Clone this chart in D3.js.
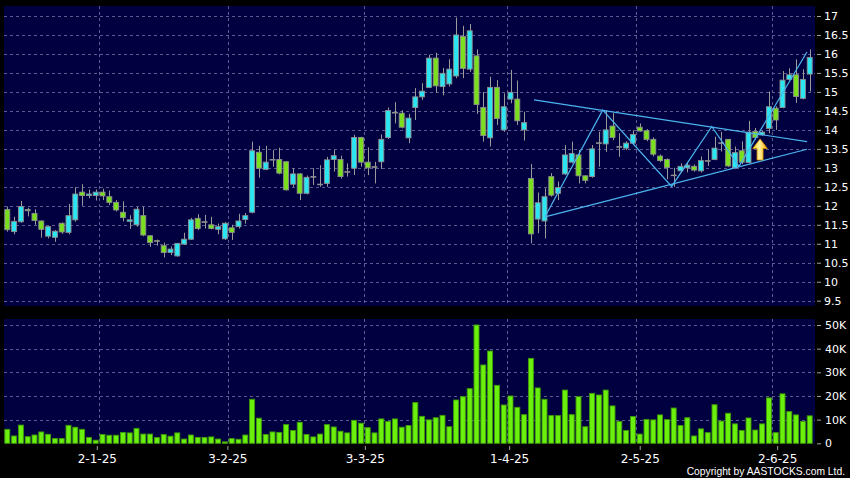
<!DOCTYPE html>
<html><head><meta charset="utf-8">
<script src="https://cdn.jsdelivr.net/npm/d3@7"></script>
<style>html,body{margin:0;padding:0;background:#000;}svg{display:block;}</style>
</head><body><svg id="chart" width="850" height="478"></svg>
<script>
// ---------- DATA ----------
const dates = [
 "10-12-24","11-12-24","12-12-24","13-12-24","16-12-24","17-12-24","18-12-24","19-12-24","20-12-24","23-12-24","24-12-24","27-12-24","30-12-24","31-12-24",
 "2-1-25","3-1-25","6-1-25","7-1-25","8-1-25","9-1-25","10-1-25","13-1-25","14-1-25","15-1-25","16-1-25","17-1-25","20-1-25","21-1-25","22-1-25","23-1-25","24-1-25","27-1-25","28-1-25",
 "3-2-25","4-2-25","5-2-25","6-2-25","7-2-25","10-2-25","11-2-25","12-2-25","13-2-25","14-2-25","17-2-25","18-2-25","19-2-25","20-2-25","21-2-25","24-2-25","25-2-25","26-2-25","27-2-25","28-2-25",
 "3-3-25","4-3-25","5-3-25","6-3-25","7-3-25","10-3-25","11-3-25","12-3-25","13-3-25","14-3-25","17-3-25","18-3-25","19-3-25","20-3-25","21-3-25","24-3-25","25-3-25","26-3-25","27-3-25","28-3-25","31-3-25",
 "1-4-25","2-4-25","3-4-25","7-4-25","8-4-25","9-4-25","10-4-25","11-4-25","14-4-25","15-4-25","16-4-25","17-4-25","22-4-25","23-4-25","24-4-25","25-4-25","28-4-25","29-4-25","30-4-25",
 "2-5-25","6-5-25","7-5-25","8-5-25","9-5-25","12-5-25","13-5-25","14-5-25","15-5-25","16-5-25","19-5-25","20-5-25","21-5-25","22-5-25","23-5-25","26-5-25","27-5-25","28-5-25","29-5-25","30-5-25",
 "2-6-25","3-6-25","4-6-25","5-6-25","6-6-25","9-6-25"
];
const openP = [11.90,11.32,11.58,11.90,11.80,11.60,11.20,11.17,11.54,11.30,11.63,12.36,12.27,12.27,12.36,12.24,12.09,11.83,11.59,11.50,
 11.74,11.21,11.08,10.95,10.77,10.68,10.99,11.12,11.67,11.58,11.50,11.38,11.13,11.42,11.45,11.64,11.83,13.41,12.96,13.22,
 13.22,13.16,12.57,12.84,12.33,12.77,12.57,12.59,13.22,13.22,12.90,12.99,13.80,13.15,13.03,13.16,13.80,14.46,14.44,13.79,
 14.59,14.87,15.12,15.89,15.14,15.21,15.42,16.46,15.60,15.95,14.59,13.79,15.12,14.00,14.81,14.81,14.00,12.72,11.65,11.60,
 12.77,12.33,12.84,13.15,13.34,12.79,12.77,13.66,13.63,14.10,13.56,13.52,13.65,14.07,13.98,13.75,13.31,13.22,12.81,12.92,
 13.00,13.04,12.92,13.19,13.22,13.66,13.75,13.00,13.45,13.14,13.96,13.87,14.04,14.57,14.59,15.33,15.45,14.83,15.47];
const highP = [11.98,11.71,12.13,11.95,11.91,11.62,11.47,11.36,11.56,12.05,12.49,12.57,12.43,12.43,12.45,12.40,12.15,12.12,11.75,11.97,
 11.98,11.23,11.11,11.03,10.93,11.01,11.29,11.68,11.78,11.76,11.71,11.53,11.57,11.50,11.79,11.81,13.69,13.58,13.58,13.47,
 13.53,13.18,12.99,12.86,12.80,12.99,13.07,13.29,13.47,13.32,13.12,13.87,13.82,13.54,13.16,13.88,14.59,14.73,14.52,14.42,
 15.10,15.23,15.98,16.03,15.63,15.86,16.96,16.74,16.79,16.12,15.00,15.40,15.31,14.96,15.58,15.30,14.48,13.10,12.35,12.46,
 12.86,12.64,13.60,13.69,13.47,12.80,13.60,13.95,14.52,14.44,13.91,13.70,13.99,14.17,14.02,13.80,13.35,13.25,13.00,13.12,
 13.13,13.09,13.30,13.49,13.82,13.95,13.76,13.56,13.70,14.24,14.05,13.97,15.01,14.62,15.55,15.62,15.86,15.60,16.12];
const lowP = [11.32,11.25,11.55,11.72,11.50,11.16,11.14,11.05,11.26,11.25,11.58,12.00,12.20,12.14,12.15,12.02,11.85,11.59,11.39,11.45,
 11.20,10.92,10.95,10.64,10.70,10.66,10.97,11.10,11.36,11.40,11.38,11.25,11.10,11.10,11.40,11.53,11.80,12.74,12.94,13.03,
 12.83,12.40,12.50,12.15,12.30,12.55,12.50,12.50,12.90,12.72,12.77,12.81,13.03,12.81,12.59,12.97,13.76,14.17,14.04,13.65,
 14.26,14.79,15.10,14.98,14.91,15.14,15.36,15.36,15.53,14.42,13.69,13.56,14.13,13.95,14.70,14.13,13.72,11.01,11.28,11.14,
 12.24,12.15,12.81,13.12,12.59,12.59,12.74,13.03,13.42,13.73,13.29,13.47,13.62,13.95,13.70,13.30,13.15,12.70,12.50,12.88,
 12.88,12.90,12.88,13.05,13.20,13.43,13.02,12.98,13.10,13.12,13.75,13.85,13.91,14.00,14.57,15.30,14.71,14.80,15.01];
const closeP = [11.37,11.59,11.98,11.87,11.61,11.38,11.45,11.33,11.31,11.74,12.31,12.27,12.31,12.36,12.26,12.09,11.89,11.69,11.63,11.91,
 11.23,11.03,11.07,10.77,10.86,11.01,11.12,11.63,11.40,11.58,11.40,11.45,11.54,11.30,11.60,11.74,13.45,12.99,13.15,13.22,
 12.86,12.42,12.84,12.33,12.75,12.77,12.57,13.21,13.32,12.77,12.90,13.80,13.15,13.00,13.03,13.75,14.51,14.46,14.07,14.31,
 14.87,15.02,15.89,15.16,15.49,15.60,16.50,15.62,16.61,14.67,13.85,15.12,14.30,14.61,14.99,14.24,14.19,11.26,12.08,12.24,
 12.28,12.48,13.34,13.38,12.79,12.67,13.50,13.66,14.00,13.80,13.56,13.65,13.88,13.97,13.75,13.36,13.19,13.01,12.81,13.04,
 13.07,12.94,13.19,13.19,13.52,13.66,13.05,13.40,13.15,13.94,13.80,13.94,14.61,14.26,15.31,15.45,14.88,15.33,15.91];
const volumeK = [5.9,3.1,7.7,2.8,3.5,4.8,3.8,2.0,2.0,7.6,6.8,5.9,2.5,1.3,3.7,3.4,3.4,4.6,4.4,6.3,
 3.9,3.9,2.4,3.7,3.0,4.4,1.8,3.5,2.5,2.5,2.7,1.8,0.6,2.0,1.7,3.5,18.6,10.6,3.7,4.8,
 4.6,7.9,5.4,8.9,3.7,2.7,3.9,7.9,6.9,5.1,4.4,9.7,8.5,6.6,4.4,10.3,9.2,10.3,6.8,7.5,
 17.2,11.4,9.9,10.8,11.8,7.0,18.3,19.7,23.1,50.0,33.1,39.0,24.5,16.2,20.0,15.2,12.1,35.9,23.4,18.6,
 11.7,11.7,22.5,12.1,19.7,7.0,21.1,20.4,22.5,15.8,9.2,5.4,11.3,3.9,10.1,9.9,12.0,10.0,14.9,7.5,
 10.8,3.1,6.1,4.5,16.3,9.4,12.7,8.2,5.4,10.7,5.6,8.2,19.2,4.5,20.9,13.4,12.0,9.2,11.6];
const priceTicks = [9.5,10,10.5,11,11.5,12,12.5,13,13.5,14,14.5,15,15.5,16,16.5,17];
const volumeTicks = [0,10,20,30,40,50];
const monthTickLabels = ["2-1-25","3-2-25","3-3-25","1-4-25","2-5-25","2-6-25"];
// trend drawings: [candle index, price]
const upperLine = [[77.46,14.79],[117.6,13.69]];
const lowerLine = [[79.07,11.71],[117.6,13.49]];
const zigzag = [[79.07,11.71],[87.56,14.52],[97.7,12.51],[103.6,14.09],[107.6,13.04],[117.6,16.05]];
const arrowAt = [110.7,13.76];

// ---------- LAYOUT ----------
const W = 850, H = 478;
const L = 4, R = 815;
const pTop = 6, pBot = 306, vTop = 319, vBot = 443.3;
const svg = d3.select("#chart");
const n = dates.length;

const xBand = d3.scaleBand().domain(d3.range(n)).range([3.9, 813.1]).paddingInner(0.12).paddingOuter(0.06);
const bw = xBand.bandwidth();
const xc = d3.scaleLinear().domain([0, n - 1]).range([xBand(0) + bw / 2, xBand(n - 1) + bw / 2]);
const xTick = d3.scaleLinear().domain([0, n]).range([0.6, 818.4]);
const yP = d3.scaleLinear().domain([9.5, 17]).range([300.7, 16]);
const yV = d3.scaleLinear().domain([0, 50]).range([vBot, 325]);

const monthIdx = monthTickLabels.map(s => dates.indexOf(s));

svg.append("rect").attr("width", W).attr("height", H).attr("fill", "#000");
const navy = "#000040";
svg.append("rect").attr("x", L).attr("y", pTop).attr("width", R - L).attr("height", pBot - pTop).attr("fill", navy);
svg.append("rect").attr("x", L).attr("y", vTop).attr("width", R - L).attr("height", vBot - vTop).attr("fill", navy);

const gridCol = "#5b5b8e";
const grid = svg.append("g").attr("stroke", gridCol).attr("stroke-width", 1).attr("stroke-dasharray", "3,3");
grid.selectAll("line.hp").data(priceTicks).join("line")
  .attr("x1", L).attr("x2", R).attr("y1", d => Math.round(yP(d)) + 0.5).attr("y2", d => Math.round(yP(d)) + 0.5);
grid.selectAll("line.hv").data(volumeTicks.filter(d => d > 0)).join("line").attr("class","hv")
  .attr("x1", L).attr("x2", R).attr("y1", d => Math.round(yV(d)) + 0.5).attr("y2", d => Math.round(yV(d)) + 0.5);
grid.selectAll("line.vp").data(monthIdx).join("line").attr("class","vp")
  .attr("x1", d => Math.round(xc(d - 0.5)) + 0.5).attr("x2", d => Math.round(xc(d - 0.5)) + 0.5).attr("y1", pTop).attr("y2", pBot);
grid.selectAll("line.vv").data(monthIdx).join("line").attr("class","vv")
  .attr("x1", d => Math.round(xc(d - 0.5)) + 0.5).attr("x2", d => Math.round(xc(d - 0.5)) + 0.5).attr("y1", vTop).attr("y2", vBot);

// ---------- CANDLES ----------
const candles = d3.range(n).map(i => ({i, o: openP[i], h: highP[i], l: lowP[i], c: closeP[i]}));
const cUp = "#2be6f2", cDn = "#7ae01e", outline = "#8e8e8e";
const cg = svg.append("g");
cg.selectAll("line.wick").data(candles).join("line").attr("class","wick")
  .attr("x1", d => Math.round(xc(d.i)) + 0.5).attr("x2", d => Math.round(xc(d.i)) + 0.5)
  .attr("y1", d => yP(d.h)).attr("y2", d => yP(d.l))
  .attr("stroke", "#9a9a9a").attr("stroke-width", 1);
cg.selectAll("rect.body").data(candles).join("rect").attr("class","body")
  .attr("x", d => xBand(d.i) + 0.5).attr("width", bw - 1)
  .attr("y", d => yP(Math.max(d.o, d.c)))
  .attr("height", d => Math.max(0.6, Math.abs(yP(d.o) - yP(d.c))))
  .attr("fill", d => d.c > d.o ? cUp : d.c < d.o ? cDn : "#9a9a9a")
  .attr("stroke", outline).attr("stroke-width", 0.9);

// ---------- TREND LINES ----------
const lineGen = d3.line().x(d => xc(d[0])).y(d => yP(d[1]));
const tg = svg.append("g").attr("fill", "none").attr("stroke", "#4cb4ee").attr("stroke-width", 1.2);
[upperLine, lowerLine, zigzag].forEach(pts => tg.append("path").attr("d", lineGen(pts)));

// arrow
const defs = svg.append("defs");
const gr = defs.append("linearGradient").attr("id", "arrG").attr("x1", 0).attr("y1", 0).attr("x2", 1).attr("y2", 0);
gr.append("stop").attr("offset", "0").attr("stop-color", "#ffd21a");
gr.append("stop").attr("offset", "0.45").attr("stop-color", "#fff3a0");
gr.append("stop").attr("offset", "1").attr("stop-color", "#ffa800");
const ax = xc(arrowAt[0]), ay = yP(arrowAt[1]);
svg.append("path")
  .attr("d", `M${ax},${ay} L${ax+7.3},${ay+9.5} L${ax+3},${ay+9.5} L${ax+3},${ay+21} L${ax-3},${ay+21} L${ax-3},${ay+9.5} L${ax-7.3},${ay+9.5} Z`)
  .attr("fill", "url(#arrG)").attr("stroke", "#e09400").attr("stroke-width", 0.8);

// ---------- VOLUME ----------
svg.append("g").selectAll("rect").data(volumeK).join("rect")
  .attr("x", (d, i) => xBand(i) + 0.5).attr("width", bw - 1)
  .attr("y", d => yV(d)).attr("height", d => vBot - yV(d))
  .attr("fill", "#6af00c").attr("stroke", "#3f9a08").attr("stroke-width", 0.9);

// ---------- AXES ----------
const font = "DejaVu Sans, Verdana, sans-serif";
const pAxis = svg.append("g").attr("transform", `translate(817,0)`)
  .call(d3.axisRight(yP).tickValues(priceTicks).tickSize(4).tickPadding(3).tickFormat(d => d3.format("")(d)));
const vAxis = svg.append("g").attr("transform", `translate(817,0)`)
  .call(d3.axisRight(yV).tickValues(volumeTicks).tickSize(4).tickPadding(4).tickFormat(d => d === 0 ? "0" : d + "K"));
const xAxis = svg.append("g").attr("transform", `translate(0,446)`)
  .call(d3.axisBottom(xTick).tickValues(monthIdx).tickSize(4).tickPadding(4).tickFormat((d, k) => monthTickLabels[k]));
[pAxis, vAxis, xAxis].forEach(g => {
  g.select(".domain").remove();
  g.selectAll(".tick line").attr("stroke", "#a0a0a0");
  g.selectAll("text").attr("fill", "#fff").attr("font-family", font);
});
pAxis.selectAll("text").attr("font-size", 11);
vAxis.selectAll("text").attr("font-size", 11);
xAxis.selectAll("text").attr("font-size", 12);

svg.append("text").attr("x", 845).attr("y", 474.5).attr("text-anchor", "end")
  .attr("fill", "#fff").attr("font-family", "Liberation Sans, Arial, sans-serif").attr("font-size", 10.3)
  .text("Copyright by AASTOCKS.com Ltd.");
</script></body></html>
